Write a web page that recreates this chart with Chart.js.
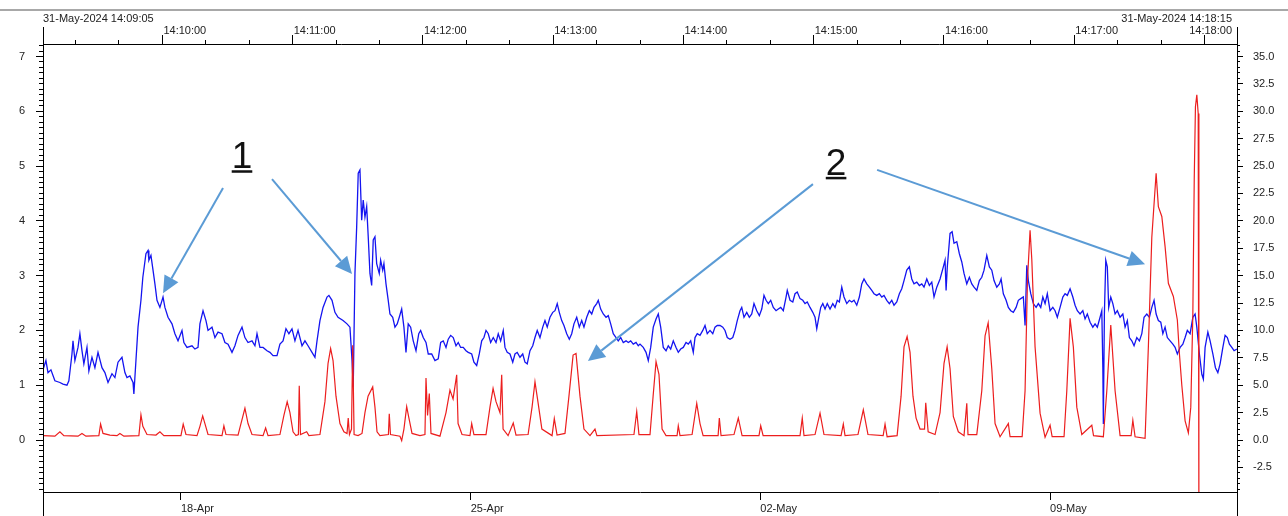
<!DOCTYPE html>
<html>
<head>
<meta charset="utf-8">
<script src="https://cdn.jsdelivr.net/npm/chart.js@4.4.1/dist/chart.umd.min.js"></script>
<style>
  html, body { margin: 0; padding: 0; background: #fff; }
  #wrap { position: relative; width: 1288px; height: 516px; overflow: hidden; }
  #wrap canvas { position: absolute; left: 0; top: 0; }
  #topline { position: absolute; left: 0; top: 9px; width: 1288px; height: 2px; background: #a8a8a8; }
</style>
</head>
<body>
<div id="wrap">
  <canvas id="chart" width="1288" height="516"></canvas>
  <div id="topline"></div>
</div>
<script>
// x values are hours since 14-Apr 00:00, y values in left-axis units
const blueReadings = [
  [16.0,1.28],[17.7,1.45],[18.9,1.23],[20.6,1.28],[22.9,1.08],[25.8,1.05],[27.6,1.02],[29.9,1.00],[31.0,1.08],[32.8,1.57],
  [33.4,1.81],[34.5,1.45],[36.3,1.69],[37.4,1.94],[38.6,1.63],[39.7,1.39],[41.5,1.69],[42.6,1.26],[44.4,1.51],[46.1,1.32],
  [47.9,1.60],[50.2,1.32],[51.9,1.23],[53.7,1.05],[56.0,1.21],[57.7,1.14],[59.5,1.42],[61.8,1.51],[63.5,1.23],[64.7,1.14],
  [66.4,1.17],[68.2,1.05],[68.7,0.84],[69.9,1.45],[71.1,2.06],[72.8,2.55],[73.9,2.97],[75.7,3.40],[76.9,3.46],[77.4,3.28],
  [78.6,3.37],[79.8,3.10],[80.9,2.85],[82.1,2.55],[83.8,2.42],[85.6,2.61],[86.7,2.42],[88.5,2.24],[90.8,2.12],[92.5,1.94],
  [94.3,1.81],[96.6,2.00],[97.7,1.78],[99.5,1.69],[102.4,1.72],[104.1,1.66],[105.9,1.69],[107.0,2.12],[108.8,2.36],[110.5,2.18],
  [111.7,2.00],[114.0,2.06],[115.7,1.87],[117.5,1.97],[119.8,1.94],[121.5,1.78],[123.3,1.75],[125.6,1.60],[127.3,1.72],[129.1,1.91],
  [131.4,2.06],[133.1,1.87],[134.9,1.78],[137.2,1.81],[138.9,1.72],[140.1,1.94],[141.8,1.69],[143.6,1.69],[145.9,1.63],[147.6,1.60],
  [149.4,1.54],[151.7,1.54],[153.4,1.75],[155.2,1.81],[156.9,2.03],[158.6,1.94],[160.4,2.03],[162.1,1.81],[163.9,2.00],[166.2,1.72],
  [167.9,1.81],[169.7,1.72],[172.0,1.60],[173.7,1.51],[174.9,1.81],[176.6,2.18],[178.4,2.42],[180.7,2.61],[181.8,2.64],[183.6,2.55],
  [185.3,2.33],[187.1,2.24],[190.0,2.18],[192.3,2.12],[194.0,2.06],[195.2,1.45],[195.9,0.96],[196.9,3.04],[197.9,3.89],[198.8,4.87],
  [199.8,4.93],[200.8,4.01],[201.7,4.38],[202.7,4.07],[203.7,4.26],[204.6,3.71],[205.6,3.04],[206.6,2.82],[207.5,3.65],[208.5,3.71],
  [209.5,3.22],[211.0,3.04],[211.8,3.28],[213.0,3.10],[213.7,3.22],[214.9,2.85],[216.2,2.55],[217.2,2.30],[218.8,2.24],[220.1,2.06],
  [221.4,2.12],[222.6,2.24],[224.0,2.39],[225.3,2.06],[226.5,1.60],[227.8,2.12],[229.2,2.06],[230.7,1.81],[232.3,1.63],[233.9,1.94],
  [235.0,2.00],[236.5,1.87],[238.1,1.78],[239.4,1.57],[241.4,1.57],[243.3,1.45],[245.2,1.48],[246.6,1.78],[248.1,1.81],[249.7,1.69],
  [251.0,1.84],[252.4,1.91],[253.9,1.87],[255.5,1.72],[256.8,1.78],[258.2,1.69],[259.7,1.69],[261.3,1.63],[262.6,1.60],[264.6,1.57],
  [265.9,1.42],[267.5,1.36],[269.0,1.57],[270.4,1.81],[271.7,1.87],[272.9,2.00],[274.2,1.94],[275.6,1.78],[277.1,1.87],[278.7,1.78],
  [280.0,1.94],[281.4,1.81],[282.9,2.00],[283.9,1.69],[285.2,1.60],[286.8,1.57],[288.4,1.42],[289.7,1.57],[291.0,1.60],[292.6,1.51],
  [294.2,1.57],[295.5,1.42],[296.8,1.39],[298.4,1.63],[300.0,1.72],[301.3,1.87],[302.6,2.00],[304.2,1.87],[305.8,2.06],[307.1,2.18],
  [308.4,2.06],[310.0,2.24],[311.6,2.33],[312.9,2.36],[314.2,2.49],[315.4,2.33],[316.8,2.18],[318.1,2.09],[319.7,1.94],[321.2,1.84],
  [322.6,1.94],[323.9,2.12],[325.5,2.24],[327.0,2.06],[328.4,2.18],[329.7,2.06],[331.3,2.24],[332.8,2.36],[334.2,2.30],[335.5,2.42],
  [337.1,2.49],[338.0,2.55],[339.4,2.39],[340.9,2.30],[342.5,2.24],[343.8,2.27],[345.2,2.12],[346.7,1.94],[348.3,1.87],[349.6,1.81],
  [351.0,1.87],[352.5,1.78],[354.1,1.81],[355.4,1.78],[356.8,1.81],[358.3,1.75],[359.9,1.78],[361.2,1.72],[362.2,1.75],[364.1,1.69],
  [365.7,1.60],[367.0,1.45],[368.4,1.69],[369.9,2.06],[371.5,2.21],[372.8,2.30],[374.2,2.06],[375.7,1.69],[377.3,1.63],[378.6,1.72],
  [380.0,1.66],[381.5,1.81],[383.1,1.69],[384.4,1.60],[385.8,1.66],[387.3,1.69],[388.9,1.78],[390.2,1.75],[391.6,1.81],[393.1,1.60],
  [394.1,1.87],[395.4,1.94],[397.0,1.91],[398.6,2.00],[399.9,2.09],[401.2,1.94],[402.8,2.00],[404.4,1.94],[405.7,2.06],[407.0,2.09],
  [408.6,2.09],[410.2,2.06],[411.5,2.00],[412.8,1.87],[414.4,1.84],[416.0,1.87],[417.3,2.00],[418.6,2.18],[420.2,2.36],[421.2,2.42],
  [422.5,2.24],[424.1,2.33],[425.6,2.24],[427.0,2.30],[428.3,2.49],[429.9,2.36],[431.4,2.27],[432.8,2.39],[434.1,2.64],[435.3,2.55],
  [436.6,2.49],[438.0,2.55],[439.5,2.42],[441.1,2.36],[442.4,2.39],[443.8,2.42],[445.3,2.36],[446.9,2.61],[447.6,2.73],[449.2,2.55],
  [450.8,2.52],[452.1,2.67],[453.4,2.70],[455.0,2.58],[456.6,2.55],[457.9,2.49],[459.2,2.52],[460.8,2.42],[462.4,2.33],[463.7,2.24],
  [464.7,2.03],[465.9,2.24],[467.0,2.42],[468.2,2.49],[469.5,2.39],[470.8,2.49],[472.4,2.39],[474.0,2.49],[475.3,2.42],[476.6,2.55],
  [477.8,2.52],[479.2,2.79],[480.5,2.61],[482.1,2.49],[483.6,2.55],[485.0,2.52],[486.3,2.55],[487.9,2.46],[489.4,2.61],[490.8,2.85],
  [492.1,2.94],[493.7,2.85],[495.2,2.79],[496.6,2.73],[497.9,2.67],[499.5,2.64],[501.0,2.67],[502.4,2.61],[503.7,2.64],[505.3,2.55],
  [506.8,2.49],[508.2,2.55],[509.5,2.46],[511.1,2.52],[512.6,2.67],[514.0,2.76],[515.3,2.91],[516.9,3.10],[518.4,3.16],[519.8,2.94],
  [521.1,2.85],[522.7,2.88],[524.2,2.82],[525.6,2.85],[526.9,2.79],[528.5,2.94],[530.0,2.82],[531.4,2.88],[532.7,2.61],[534.3,2.79],
  [536.2,2.94],[538.1,3.16],[539.1,3.28],[539.7,2.73],[540.4,3.16],[542.0,3.77],[543.2,3.80],[544.3,3.59],[545.9,3.62],[547.4,3.40],
  [548.8,3.25],[550.1,3.04],[551.7,2.85],[553.2,2.97],[554.6,2.85],[555.9,2.79],[557.5,2.73],[559.0,2.91],[560.4,2.97],[561.7,3.10],
  [563.3,3.37],[564.8,3.16],[566.2,3.10],[567.5,2.91],[569.1,2.79],[570.6,2.85],[571.6,2.94],[572.9,2.67],[574.5,2.55],[575.8,2.42],
  [577.2,2.36],[578.7,2.33],[580.3,2.42],[581.6,2.55],[583.0,2.58],[584.5,2.61],[585.5,2.09],[586.5,3.19],[587.4,2.91],[588.8,2.67],
  [590.3,2.49],[591.9,2.42],[593.2,2.49],[594.6,2.42],[595.8,2.61],[597.1,2.49],[598.4,2.67],[600.0,2.36],[601.6,2.42],[602.9,2.36],
  [604.2,2.24],[605.8,2.42],[607.4,2.61],[608.7,2.67],[610.0,2.64],[611.6,2.76],[613.2,2.61],[614.5,2.46],[615.8,2.36],[617.4,2.30],
  [619.0,2.36],[620.3,2.21],[621.6,2.30],[623.2,2.15],[624.8,2.06],[626.1,2.12],[627.4,2.06],[629.0,2.24],[630.0,2.36],[630.6,1.32],
  [630.9,0.29],[631.5,2.30],[632.3,3.28],[633.2,3.16],[634.0,2.42],[635.2,2.61],[636.4,2.49],[637.7,2.30],[639.0,2.36],[640.6,2.24],
  [642.2,2.30],[643.5,2.06],[644.8,2.18],[646.0,1.87],[647.4,1.81],[648.7,1.72],[650.3,1.87],[651.8,1.81],[653.2,1.94],[654.5,2.24],
  [656.1,2.30],[657.6,2.24],[659.0,2.42],[660.3,2.55],[661.5,2.30],[662.8,2.18],[664.2,2.15],[665.4,1.94],[666.7,2.06],[668.0,1.87],
  [669.6,1.81],[671.2,1.75],[672.5,1.69],[673.8,1.57],[675.4,1.69],[677.0,1.75],[678.3,1.87],[679.6,2.00],[681.2,1.94],[682.8,2.24],
  [684.1,2.30],[685.1,2.06],[686.6,1.57],[688.0,1.20],[688.9,1.11],[689.9,1.69],[691.5,1.97],[692.8,1.81],[694.4,1.57],[695.9,1.32],
  [697.3,1.23],[698.6,1.39],[700.2,1.69],[701.5,1.91],[702.8,1.87],[704.0,1.75],[705.4,1.69],[706.7,1.63],[708.3,1.66]
];

const redReadings = [
  [16.0,0.08],[22.9,0.07],[25.8,0.15],[28.1,0.08],[36.3,0.07],[38.6,0.12],[40.9,0.07],[48.4,0.08],[49.4,0.29],[50.8,0.12],
  [54.8,0.09],[58.9,0.08],[60.6,0.12],[62.9,0.07],[71.6,0.08],[72.8,0.46],[73.9,0.25],[76.3,0.10],[81.5,0.09],[83.8,0.15],
  [86.1,0.08],[96.0,0.08],[97.3,0.29],[98.9,0.10],[105.3,0.08],[107.0,0.25],[108.6,0.44],[109.9,0.30],[111.7,0.10],[119.8,0.08],
  [120.9,0.26],[122.1,0.10],[129.1,0.09],[130.8,0.30],[133.1,0.58],[134.9,0.30],[137.2,0.10],[143.6,0.08],[145.1,0.22],[146.5,0.08],
  [153.4,0.10],[155.7,0.45],[157.6,0.70],[159.2,0.50],[161.0,0.15],[162.7,0.08],[164.1,0.10],[164.6,0.99],[165.3,0.10],[168.9,0.15],
  [170.2,0.08],[176.6,0.10],[179.5,0.70],[181.3,1.40],[182.8,1.67],[184.2,1.45],[185.9,0.80],[188.2,0.30],[190.5,0.15],[192.3,0.12],
  [193.0,0.40],[193.7,0.10],[194.9,0.20],[195.6,1.73],[196.4,0.10],[198.7,0.08],[201.0,0.12],[202.7,0.50],[204.5,0.80],[207.2,0.97],
  [208.5,0.60],[209.7,0.15],[211.4,0.08],[216.3,0.10],[216.8,0.48],[217.5,0.10],[223.0,0.07],[224.0,-0.01],[225.3,0.20],[226.9,0.61],
  [228.2,0.40],[230.0,0.12],[234.6,0.08],[237.5,0.10],[238.1,1.13],[239.0,0.45],[240.0,0.85],[241.0,0.12],[246.2,0.07],[249.7,0.50],
  [252.0,0.91],[253.8,0.75],[255.9,1.19],[256.7,0.30],[259.0,0.10],[263.6,0.08],[264.6,0.30],[265.9,0.10],[272.9,0.10],[275.2,0.60],
  [277.0,0.94],[278.7,0.70],[281.0,0.50],[282.0,1.19],[282.8,0.20],[285.7,0.08],[288.7,0.31],[290.3,0.09],[297.3,0.10],[299.6,0.60],
  [301.3,1.06],[303.0,0.70],[305.3,0.20],[311.2,0.08],[312.5,0.39],[314.1,0.09],[318.7,0.12],[321.0,0.80],[323.4,1.55],[325.1,1.58],
  [327.4,0.80],[329.7,0.20],[333.2,0.08],[336.1,0.20],[337.2,0.08],[358.7,0.10],[360.3,0.52],[361.6,0.10],[368.0,0.10],[369.8,0.80],
  [371.5,1.43],[373.2,1.20],[375.0,0.20],[377.3,0.08],[383.7,0.08],[384.4,0.26],[385.4,0.08],[392.4,0.10],[395.1,0.67],[397.0,0.30],
  [398.8,0.08],[407.5,0.08],[408.2,0.40],[409.2,0.08],[416.7,0.10],[419.2,0.40],[421.4,0.08],[431.2,0.08],[432.2,0.26],[433.6,0.08],
  [455.0,0.08],[456.3,0.40],[457.3,0.08],[463.7,0.10],[466.6,0.49],[468.9,0.10],[478.8,0.08],[480.1,0.29],[481.1,0.08],[488.6,0.10],
  [491.7,0.55],[494.4,0.10],[503.2,0.08],[504.3,0.29],[505.5,0.06],[511.3,0.08],[513.6,0.80],[515.3,1.70],[517.1,1.89],[518.8,1.60],
  [520.5,0.80],[522.3,0.40],[524.6,0.20],[527.2,0.20],[527.9,0.68],[529.3,0.15],[533.3,0.10],[536.2,0.50],[538.5,1.40],[540.3,1.70],
  [542.0,1.30],[543.9,0.43],[546.8,0.15],[550.1,0.08],[551.7,0.67],[552.4,0.10],[557.5,0.10],[560.4,0.90],[562.3,1.90],[564.1,2.14],
  [566.2,1.30],[568.1,0.30],[571.0,0.06],[575.8,0.30],[576.8,0.06],[583.8,0.06],[585.5,0.90],[586.9,2.92],[588.4,3.83],[589.4,3.30],
  [591.3,1.70],[594.2,0.49],[597.1,0.05],[600.0,0.27],[601.2,0.06],[608.1,0.06],[609.7,0.90],[611.6,2.22],[613.5,1.70],[615.5,0.60],
  [618.4,0.10],[624.2,0.27],[625.2,0.08],[630.9,0.06],[632.9,0.90],[635.2,2.10],[637.7,0.90],[640.6,0.08],[647.0,0.08],[648.0,0.36],
  [649.3,0.06],[655.1,0.03],[657.0,1.70],[659.0,3.70],[661.5,4.87],[662.8,4.26],[664.8,4.08],[666.7,3.53],[668.6,2.86],[671.5,2.62],
  [673.8,2.19],[675.0,1.58],[676.4,1.00],[678.3,0.35],[680.2,0.13],[681.6,0.60],[682.8,2.31],[683.6,4.75],[684.3,6.08],[685.1,6.30],
  [685.9,5.96],[686.3,-1.50]
];

// bottom date axis (hours since 14-Apr 00:00)
const dateTickHours = [96, 264, 432, 600];
const dateLabels = ['18-Apr', '25-Apr', '02-May', '09-May'];

// top clock axis (seconds since 14:09:05)
const timeSeconds = [55, 115, 175, 235, 295, 355, 415, 475, 535];
const timeLabels = ['14:10:00', '14:11:00', '14:12:00', '14:13:00', '14:14:00', '14:15:00', '14:16:00', '14:17:00', '14:18:00'];
const startStamp = '31-May-2024 14:09:05';
const endStamp = '31-May-2024 14:18:15';

// callouts: [text, hour, value] and arrows: [fromHour, fromValue, toHour, toValue]
const callouts = [['1', 131.4, 4.96], ['2', 475.9, 4.84]];
const arrows = [
  [120.4, 4.60, 85.6, 2.68],
  [148.8, 4.76, 195.2, 3.03],
  [462.5, 4.67, 332.0, 1.44],
  [499.7, 4.93, 655.1, 3.21]
];

const FONT = "'Liberation Sans', Arial, sans-serif";
Chart.defaults.font.family = FONT;
Chart.defaults.font.size = 11;
Chart.defaults.color = '#222';

const al = p => Math.round(p - 0.5) + 0.5;

const decor = {
  id: 'decor',
  afterDraw(chart) {
    const { ctx, chartArea: a, scales } = chart;
    const L = al(a.left), R = al(a.right);
    ctx.save();
    ctx.strokeStyle = '#000';
    ctx.lineWidth = 1;
    ctx.beginPath();
    ctx.moveTo(L, 27); ctx.lineTo(L, 516);
    ctx.moveTo(R, 27); ctx.lineTo(R, 516);
    scales.y.ticks.forEach(t => {
      const py = al(scales.y.getPixelForValue(t.value));
      const major = Math.abs(t.value - Math.round(t.value)) < 1e-6;
      ctx.moveTo(a.left - (major ? 7 : 4), py); ctx.lineTo(a.left, py);
    });
    scales.y2.ticks.forEach(t => {
      const py = al(scales.y2.getPixelForValue(t.value));
      const major = Math.abs(t.value / 2.5 - Math.round(t.value / 2.5)) < 1e-6;
      ctx.moveTo(a.right, py); ctx.lineTo(a.right + (major ? 6 : 3), py);
    });
    for (let s = 15; s <= 535; s += 20) {
      const px = al(scales.x2.getPixelForValue(s));
      const major = (s - 55) % 60 === 0;
      ctx.moveTo(px, a.top - (major ? 9 : 4)); ctx.lineTo(px, a.top);
    }
    ctx.stroke();

    // clock labels on top
    ctx.fillStyle = '#222';
    ctx.font = '11px ' + FONT;
    ctx.textBaseline = 'alphabetic';
    timeLabels.forEach((lab, i) => {
      const px = scales.x2.getPixelForValue(timeSeconds[i]);
      const w = ctx.measureText(lab).width;
      if (px + w > a.right - 2) {
        ctx.textAlign = 'right';
        ctx.fillText(lab, a.right - 5, 34);
      } else {
        ctx.textAlign = 'left';
        ctx.fillText(lab, px + 1, 34);
      }
    });
    ctx.textAlign = 'left';
    ctx.fillText(startStamp, a.left, 22);
    ctx.textAlign = 'right';
    ctx.fillText(endStamp, a.right - 5, 22);

    // arrows
    const X = scales.x, Y = scales.y;
    ctx.strokeStyle = '#5b9bd5';
    ctx.fillStyle = '#5b9bd5';
    ctx.lineWidth = 2;
    arrows.forEach(([h0, v0, h1, v1]) => {
      const x0 = X.getPixelForValue(h0), y0 = Y.getPixelForValue(v0);
      const x1 = X.getPixelForValue(h1), y1 = Y.getPixelForValue(v1);
      const ang = Math.atan2(y1 - y0, x1 - x0), head = 17, half = 8;
      const bx = x1 - head * Math.cos(ang), by = y1 - head * Math.sin(ang);
      ctx.beginPath(); ctx.moveTo(x0, y0); ctx.lineTo(bx, by); ctx.stroke();
      ctx.beginPath();
      ctx.moveTo(x1, y1);
      ctx.lineTo(bx + half * Math.sin(ang), by - half * Math.cos(ang));
      ctx.lineTo(bx - half * Math.sin(ang), by + half * Math.cos(ang));
      ctx.closePath();
      ctx.fill();
    });

    // numbered callouts
    ctx.fillStyle = '#111';
    ctx.font = '37px ' + FONT;
    ctx.textAlign = 'center';
    callouts.forEach(([txt, h, v]) => {
      const px = X.getPixelForValue(h), py = Y.getPixelForValue(v);
      ctx.fillText(txt, px, py);
      const w = ctx.measureText(txt).width;
      ctx.fillRect(px - w / 2, py + 2, w, 2.5);
    });
    ctx.restore();
  }
};

const ctx = document.getElementById('chart').getContext('2d');
const chart = new Chart(ctx, {
  type: 'line',
  data: {
    datasets: [
      {
        label: 'red',
        data: redReadings.map(p => ({ x: p[0], y: p[1] })),
        borderColor: 'rgb(236,30,30)',
        borderWidth: 1.2,
        pointRadius: 0,
        tension: 0,
        yAxisID: 'y',
        xAxisID: 'x'
      },
      {
        label: 'blue',
        data: blueReadings.map(p => ({ x: p[0], y: p[1] })),
        borderColor: 'rgb(20,20,240)',
        borderWidth: 1.3,
        pointRadius: 0,
        tension: 0,
        yAxisID: 'y',
        xAxisID: 'x'
      }
    ]
  },
  options: {
    responsive: false,
    animation: false,
    devicePixelRatio: 1,
    layout: { padding: 0 },
    plugins: { legend: { display: false }, tooltip: { enabled: false } },
    scales: {
      x: {
        type: 'linear',
        position: 'bottom',
        min: 16,
        max: 708.4,
        afterBuildTicks: s => { s.ticks = dateTickHours.map(v => ({ value: v })); },
        afterFit: s => { s.height = 24; },
        ticks: {
          autoSkip: false,
          maxRotation: 0,
          align: 'start',
          padding: 2,
          font: { family: "'Liberation Sans Narrow', 'Arial Narrow', 'Liberation Sans', sans-serif", size: 11 },
          callback: (v, i) => dateLabels[i]
        },
        grid: { display: true, drawOnChartArea: false, drawTicks: true, tickLength: 8, color: '#000' },
        border: { display: true, color: '#000' }
      },
      x2: {
        type: 'linear',
        position: 'top',
        min: 0,
        max: 550,
        afterFit: s => { s.height = 44; },
        ticks: { display: false },
        grid: { display: false },
        border: { display: true, color: '#000' }
      },
      y: {
        type: 'linear',
        position: 'left',
        min: -0.949,
        max: 7.228,
        afterBuildTicks: s => {
          const t = [];
          for (let i = -9; i <= 72; i++) t.push({ value: i / 10 });
          s.ticks = t;
        },
        afterFit: s => { s.width = 43; },
        ticks: {
          autoSkip: false,
          padding: 10,
          callback: v => (Math.abs(v - Math.round(v)) < 1e-6 && v >= 0) ? String(Math.round(v)) : ''
        },
        grid: { display: false },
        border: { display: true, color: '#000' }
      },
      y2: {
        type: 'linear',
        position: 'right',
        min: -4.745,
        max: 36.14,
        afterBuildTicks: s => {
          const t = [];
          for (let i = -9; i <= 72; i++) t.push({ value: i / 2 });
          s.ticks = t;
        },
        afterFit: s => { s.width = 51; },
        ticks: {
          autoSkip: false,
          padding: 8,
          callback: v => Math.abs(v / 2.5 - Math.round(v / 2.5)) < 1e-6 ? v.toFixed(1) : ''
        },
        grid: { display: false },
        border: { display: true, color: '#000' }
      }
    }
  },
  plugins: [decor]
});
</script>
</body>
</html>
